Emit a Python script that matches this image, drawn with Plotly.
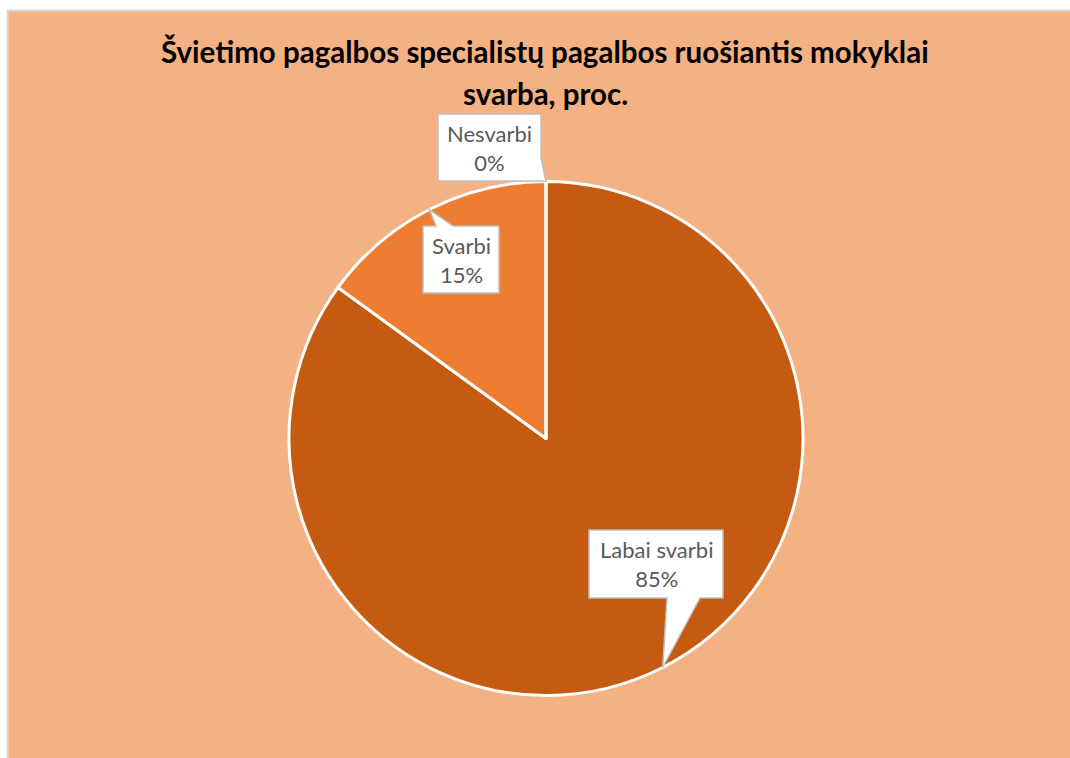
import math
import plotly.graph_objects as go

# ---- data ----
categories = ["Labai svarbi", "Svarbi", "Nesvarbi"]
values = [85, 15, 0]
colors = ["#C55A11", "#ED7D31", "#F4B183"]
title_lines = ["Švietimo pagalbos specialistų pagalbos ruošiantis mokyklai", "svarba, proc."]

W, H = 1070, 758
CX, CY, R = 546, 438.5, 257  # pie centre / radius in px


def px(x):
    return x / W


def py(y):
    return 1 - y / H


fig = go.Figure()
fig.add_trace(go.Pie(
    labels=categories, values=values, sort=False, direction="clockwise", rotation=0,
    marker=dict(colors=colors, line=dict(color="white", width=3)),
    textinfo="none", hoverinfo="label+percent", showlegend=False,
    domain=dict(x=[px(CX - R), px(CX + R)], y=[py(CY + R), py(CY - R)]),
))

# tips of callouts computed from slice mid-angles
total = sum(values)
tips = []
cum = 0
for v in values:
    mid = (cum + v / 2) / total * 2 * math.pi
    cum += v
    tips.append((CX + R * math.sin(mid), CY - R * math.cos(mid)))

# callout boxes (x0, x1, y0, y1) in px
boxes = [(589, 723, 530, 598), (423, 499, 226, 293), (438, 541, 114, 181)]


def path_from(points):
    return "M " + " L ".join(f"{px(x):.5f},{py(y):.5f}" for x, y in points) + " Z"


(x0, x1, y0, y1) = boxes[0]
t = tips[0]
p0 = [(x0, y0), (x1, y0), (x1, y1), (700, y1), t, (667, y1), (x0, y1)]
(x0, x1, y0, y1) = boxes[1]
t = tips[1]
p1 = [(x0, y0), (436, y0), t, (453, y0), (x1, y0), (x1, y1), (x0, y1)]
(x0, x1, y0, y1) = boxes[2]
t = tips[2]
p2 = [(x0, y0), (x1, y0), (x1, 158), t, (x1, y1), (x0, y1)]

shapes = [
    dict(type="rect", xref="paper", yref="paper", x0=px(7.5), x1=px(1075), y0=py(765), y1=py(10.5),
         fillcolor="#F4B183", line=dict(color="#D9D9D9", width=2), layer="below"),
]
for p in (p0, p1, p2):
    shapes.append(dict(type="path", xref="paper", yref="paper", path=path_from(p),
                       fillcolor="white", line=dict(color="#BFBFBF", width=1.5), layer="above"))

annotations = []
for cat, v, (bx0, bx1, by0, by1) in zip(categories, values, boxes):
    annotations.append(dict(
        x=px((bx0 + bx1) / 2), y=py((by0 + by1) / 2), xref="paper", yref="paper",
        text=f"{cat}<br>{v}%", showarrow=False, xanchor="center", yanchor="middle",
        font=dict(family="Lato, Open Sans, sans-serif", size=22, color="#595959"),
    ))

for i, (line, yy) in enumerate(zip(title_lines, [52, 93])):
    annotations.append(dict(
        x=px(545), y=py(yy), xref="paper", yref="paper", text=f"<b>{line}</b>",
        showarrow=False, xanchor="center", yanchor="middle",
        font=dict(family="Lato, Open Sans, sans-serif", size=29.5, color="#000000"),
    ))

fig.update_layout(
    width=W, height=H, margin=dict(l=0, r=0, t=0, b=0),
    paper_bgcolor="white", plot_bgcolor="white",
    shapes=shapes, annotations=annotations,
)

fig.write_html("out.html", config={"displayModeBar": False},
               post_script="document.body.style.margin='0';document.body.style.overflow='hidden';")
